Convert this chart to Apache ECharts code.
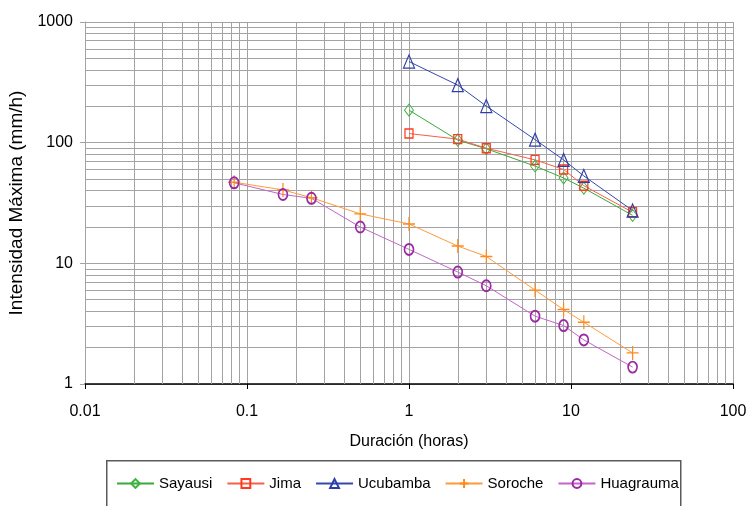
<!DOCTYPE html>
<html>
<head>
<meta charset="utf-8">
<script src="https://cdn.jsdelivr.net/npm/echarts@6/dist/echarts.min.js"></script>
<style>html,body{margin:0;padding:0;background:#fff}#c{width:746px;height:506px}</style>
</head>
<body>
<div id="c"></div>
<script>
// ---- data ----
const durLong = [1, 2, 3, 6, 9, 12, 24];
const durShort = [0.0833, 0.1667, 0.25, 0.5, 1, 2, 3, 6, 9, 12, 24];
const sayausi = [186, 105, 89, 64, 51, 42, 25];
const jima = [119, 107, 90, 72, 60, 44, 26.5];
const ucubamba = [470, 300, 201, 106, 72, 53, 27.4];
const soroche = [47, 40.6, 35, 25.7, 21.2, 13.9, 11.4, 6.0, 4.14, 3.25, 1.81];
const huagrauma = [46.5, 37.2, 34.6, 20.0, 13.05, 8.47, 6.52, 3.65, 3.05, 2.32, 1.38];
const seriesNames = ['Sayausi', 'Jima', 'Ucubamba', 'Soroche', 'Huagrauma'];
const xTickLabels = ['0.01', '0.1', '1', '10', '100'];
const yTickLabels = ['1', '10', '100', '1000'];

const FONT = '"Liberation Sans", Arial, sans-serif';
const GRID = '#a3a3a3';

function pairs(xs, ys) { return xs.map((x, i) => [x, ys[i]]); }
function pickLabel(v, labels) {
  const e = Math.round(Math.log10(v));
  for (const l of labels) { if (Math.round(Math.log10(parseFloat(l))) === e) return l; }
  return '';
}
// minor grid values (2..9 per decade)
const xMinor = [], yMinor = [];
for (let e = -2; e < 2; e++) for (let k = 2; k <= 9; k++) xMinor.push(k * Math.pow(10, e));
for (let e = 0; e < 3; e++) for (let k = 2; k <= 9; k++) yMinor.push(k * Math.pow(10, e));
const gridLines = xMinor.map(v => ({ xAxis: v })).concat(yMinor.map(v => ({ yAxis: v })));

const plusPath = 'path://M6,0L6,14M0,7L12,7';

function mk(name, xs, ys, lineColor, markColor, symbol, size, bw) {
  return {
    name, type: 'line', data: pairs(xs, ys), z: 5,
    symbol, symbolSize: size, showSymbol: true,
    lineStyle: { color: lineColor, width: 1 },
    itemStyle: { color: 'rgba(0,0,0,0)', borderColor: markColor, borderWidth: bw },
    emphasis: { disabled: true }, animation: false
  };
}

const chart = echarts.init(document.getElementById('c'), null, { renderer: 'canvas' });
chart.setOption({
  animation: false,
  backgroundColor: '#fff',
  grid: { left: 85, right: 13, top: 22, bottom: 122, containLabel: false, outerBoundsMode: 'none' },
  xAxis: {
    type: 'log', logBase: 10, min: 0.01, max: 100,
    name: 'Duración (horas)', nameLocation: 'middle', nameGap: 50,
    nameTextStyle: { fontFamily: FONT, fontSize: 16, color: '#000' },
    axisLine: { show: true, lineStyle: { color: '#000', width: 1.5 } },
    axisTick: { show: true, length: 5, lineStyle: { color: '#000' } },
    axisLabel: { fontFamily: FONT, fontSize: 16, color: '#000', margin: 20,
      formatter: v => pickLabel(v, xTickLabels) },
    splitLine: { show: true, lineStyle: { color: GRID, width: 1 } },
    minorTick: { show: false }, minorSplitLine: { show: false }
  },
  yAxis: {
    type: 'log', logBase: 10, min: 1, max: 1000,
    name: 'Intensidad Máxima (mm/h)', nameLocation: 'middle', nameGap: 48, nameRotate: 90,
    nameTextStyle: { fontFamily: FONT, fontSize: 19, color: '#000' },
    axisLine: { show: true, lineStyle: { color: GRID, width: 1 } },
    axisTick: { show: true, length: 5, lineStyle: { color: GRID } },
    axisLabel: { fontFamily: FONT, fontSize: 16, color: '#000', margin: 12,
      formatter: v => pickLabel(v, yTickLabels) },
    splitLine: { show: true, lineStyle: { color: GRID, width: 1 } },
    minorTick: { show: false }, minorSplitLine: { show: false }
  },
  legend: {
    data: seriesNames, left: 116, top: 476, orient: 'horizontal', padding: 0,
    itemWidth: 37, itemHeight: 11, itemGap: 14,
    textStyle: { fontFamily: FONT, fontSize: 15, color: '#000' },
    selectedMode: false
  },
  graphic: [{
    type: 'rect', left: 106, top: 460, silent: true, z: 0,
    shape: { width: 574, height: 70 },
    style: { fill: '#fff', stroke: '#5a5a5a', lineWidth: 1.5 }
  }],
  series: [
    {
      name: '_grid', type: 'line', data: [], z: 1, silent: true,
      markLine: {
        silent: true, symbol: ['none', 'none'], animation: false,
        label: { show: false },
        lineStyle: { color: GRID, width: 1, type: 'solid' },
        emphasis: { disabled: true },
        data: gridLines
      }
    },
    mk('Sayausi', durLong, sayausi, '#3aa83a', '#3cb43c', 'diamond', [9, 12], 1),
    mk('Jima', durLong, jima, '#f5604a', '#ff3a1c', 'rect', [8, 9], 1.3),
    mk('Ucubamba', durLong, ucubamba, '#3548b0', '#2c3ea8', 'triangle', [11, 13], 1.2),
    mk('Soroche', durShort, soroche, '#ff9a3c', '#ff8a1a', plusPath, [12, 14], 1.3),
    mk('Huagrauma', durShort, huagrauma, '#c266c8', '#9a2aa2', 'circle', [9, 11], 1.8)
  ]
});
</script>
</body>
</html>
